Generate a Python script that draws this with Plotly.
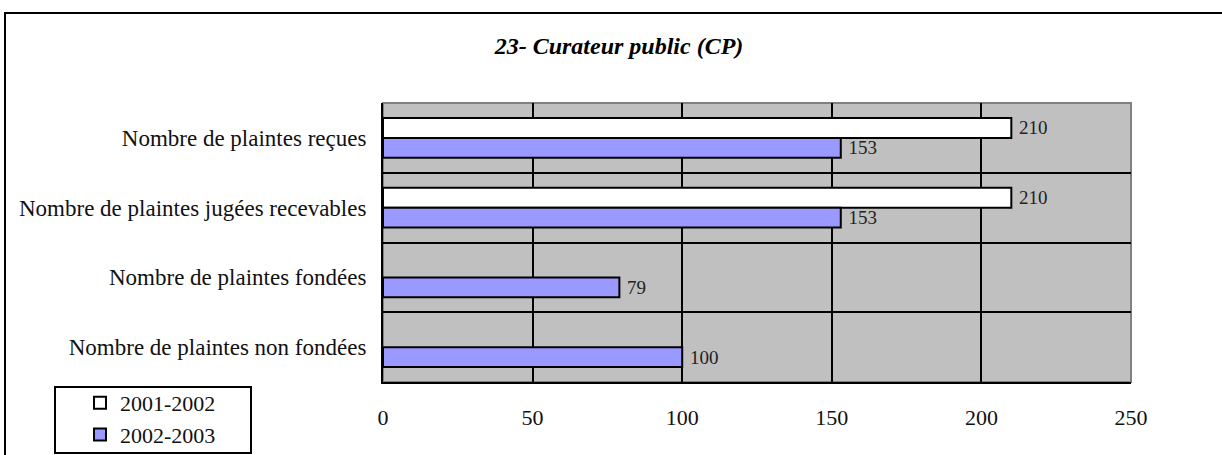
import plotly.graph_objects as go

# Categories, top to bottom
categories = [
    "Nombre de plaintes reçues",
    "Nombre de plaintes jugées recevables",
    "Nombre de plaintes fondées",
    "Nombre de plaintes non fondées",
]
series_names = ["2001-2002", "2002-2003"]
values_2001_2002 = [210, 210, None, None]
values_2002_2003 = [153, 153, 79, 100]
x_ticks = [0, 50, 100, 150, 200, 250]

serif = "Liberation Serif"
fills = ["#FFFFFF", "#9999FF"]


def labels(vals):
    # a leading space keeps the value clear of the bar end
    return ["" if v is None else "\u00a0" + str(v) for v in vals]


fig = go.Figure()
for name, vals, fill in zip(series_names, [values_2001_2002, values_2002_2003], fills):
    fig.add_trace(go.Bar(
        y=categories,
        x=vals,
        name=name,
        orientation="h",
        marker=dict(color=fill, line=dict(color="#000000", width=2)),
        text=labels(vals),
        textposition="outside",
        constraintext="none",
        textfont=dict(family=serif, size=19, color="#222222"),
        cliponaxis=False,
    ))

W, H = 1222, 455
L, R, T, B = 383, 91, 103, 73
PW, PH = W - L - R, H - T - B


def px_x(x):
    return (x - L) / PW


def px_y(y):
    return ((H - B) - y) / PH


fig.update_layout(
    width=W,
    height=H,
    margin=dict(l=L, r=R, t=T, b=B, autoexpand=False),
    paper_bgcolor="#FFFFFF",
    plot_bgcolor="#C0C0C0",
    barmode="group",
    bargap=0.43,
    bargroupgap=0,
    font=dict(family=serif, size=22, color="#000000"),
    title=dict(
        text="<b><i>23- Curateur public (CP)</i></b>",
        x=619 / W,
        xref="container",
        xanchor="center",
        y=1 - 46 / H,
        yref="container",
        yanchor="middle",
        font=dict(family=serif, size=24, color="#000000"),
    ),
    showlegend=True,
    legend=dict(
        x=px_x(80),
        y=px_y(382),
        xanchor="left",
        yanchor="top",
        bgcolor="rgba(0,0,0,0)",
        borderwidth=0,
        font=dict(family=serif, size=22, color="#111111"),
        traceorder="normal",
        tracegroupgap=0,
        itemwidth=30,
    ),
    xaxis=dict(
        range=[0, 250],
        tickvals=x_ticks,
        showgrid=True,
        gridcolor="#000000",
        gridwidth=2,
        zeroline=False,
        showline=True,
        linecolor="#000000",
        linewidth=2,
        ticks="",
        ticklabelstandoff=15,
        tickfont=dict(family=serif, size=22, color="#111111"),
    ),
    yaxis=dict(
        autorange="reversed",
        tickson="boundaries",
        showgrid=True,
        gridcolor="#000000",
        gridwidth=2,
        showline=True,
        linecolor="#000000",
        linewidth=2,
        ticks="",
        ticklabelstandoff=10,
        tickfont=dict(family=serif, size=23, color="#111111"),
    ),
    shapes=[
        # grey frame of the plot area (top and right edges)
        dict(type="rect", xref="x domain", yref="y domain", x0=0, x1=1, y0=0, y1=1,
             line=dict(color="#808080", width=2), layer="below"),
        # outer chart frame
        dict(type="rect", xref="paper", yref="paper",
             x0=px_x(5), x1=px_x(W + 20), y0=px_y(H + 20), y1=px_y(13),
             line=dict(color="#000000", width=2)),
        # legend frame
        dict(type="rect", xref="paper", yref="paper",
             x0=px_x(55), x1=px_x(251), y0=px_y(453), y1=px_y(387),
             line=dict(color="#000000", width=2)),
    ],
)

fig.write_html("out.html")
